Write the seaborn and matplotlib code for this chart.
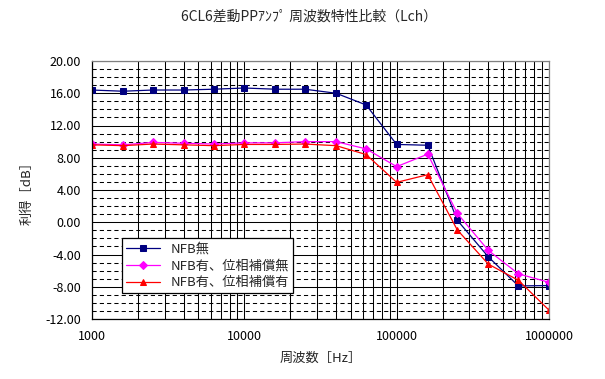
"""6CL6 differential PP amp frequency response comparison (Lch)."""

import matplotlib

matplotlib.use("Agg")
import matplotlib.pyplot as plt
import matplotlib.ticker as mticker
import pandas as pd
import seaborn as sns

# data
freq = [1000, 1600, 2500, 4000, 6300, 10000, 16000, 25000, 40000,
        63000, 100000, 160000, 250000, 400000, 630000, 1000000]
gain_no_nfb = [16.4, 16.25, 16.4, 16.4, 16.5, 16.65, 16.5, 16.5, 16.0,
               14.55, 9.65, 9.55, 0.25, -4.3, -7.9, -7.85]
gain_nfb_nocomp = [9.7, 9.6, 9.9, 9.8, 9.7, 9.85, 9.85, 10.0, 10.0,
                   9.1, 6.9, 8.45, 1.1, -3.5, -6.4, -7.45]
gain_nfb_comp = [9.6, 9.5, 9.7, 9.6, 9.5, 9.65, 9.65, 9.7, 9.5,
                 8.4, 4.95, 5.9, -0.95, -5.2, -7.2, -10.9]

series_names = ["NFB無", "NFB有、位相補償無", "NFB有、位相補償有"]
series_values = [gain_no_nfb, gain_nfb_nocomp, gain_nfb_comp]
colors = ["#000080", "#FF00FF", "#FF0000"]
markers = ["s", "D", "^"]
marker_sizes = [4.5, 4.2, 5]

sns.set_style("white")
plt.rcParams["font.family"] = ["Noto Sans CJK JP", "DejaVu Sans"]

fig = plt.figure(figsize=(6.05, 3.79), dpi=100)
ax = fig.add_axes([92 / 605, 1 - 319 / 379, 457 / 605, 258 / 379])

for name, vals, c, m, ms in zip(series_names, series_values, colors, markers, marker_sizes):
    df = pd.DataFrame({"freq": freq, "gain": vals})
    sns.lineplot(data=df, x="freq", y="gain", ax=ax, color=c, marker=m,
                 markersize=ms, markeredgecolor=c, linewidth=0.9, label=name)

ax.set_xscale("log")
ax.set_xlim(1000, 1000000)
ax.set_ylim(-12, 20)
ax.yaxis.set_major_locator(mticker.MultipleLocator(4))
ax.yaxis.set_minor_locator(mticker.MultipleLocator(1))
ax.yaxis.set_major_formatter(mticker.FormatStrFormatter("%.2f"))
ax.xaxis.set_major_locator(mticker.LogLocator(base=10))
ax.xaxis.set_minor_locator(mticker.LogLocator(base=10, subs=range(2, 10)))
ax.xaxis.set_major_formatter(mticker.FuncFormatter(lambda v, p: f"{int(round(v))}"))
ax.xaxis.set_minor_formatter(mticker.NullFormatter())

ax.grid(which="major", axis="both", color="black", linewidth=0.75, linestyle="-")
ax.grid(which="minor", axis="x", color="black", linewidth=0.75, linestyle="-")
ax.grid(which="minor", axis="y", color="black", linewidth=0.75, linestyle=(0, (4, 3)))
ax.set_axisbelow(True)

ax.tick_params(which="both", length=0, labelsize=9, colors="black", pad=8)
for side in ["left", "bottom"]:
    ax.spines[side].set_color("black")
    ax.spines[side].set_linewidth(0.9)
for side in ["top", "right"]:
    ax.spines[side].set_color("#808080")
    ax.spines[side].set_linewidth(0.9)

ax.set_xlabel("周波数［Hz］", fontsize=9.5, labelpad=6)
ax.set_ylabel("利得［dB］", fontsize=9.5, labelpad=8)
fig.text(309 / 605, 1 - 17 / 379, "6CL6差動PPｱﾝﾌﾟ 周波数特性比較（Lch）",
         ha="center", va="center", fontsize=10)

leg = ax.legend(loc="lower left", bbox_to_anchor=(0.066, 0.10), fontsize=9.5,
                frameon=True, fancybox=False, framealpha=1, edgecolor="black",
                borderpad=0.3, labelspacing=0.3, handlelength=2.6, borderaxespad=0)
leg.get_frame().set_linewidth(0.9)

fig.savefig("out.png", dpi=100)
plt.close(fig)
